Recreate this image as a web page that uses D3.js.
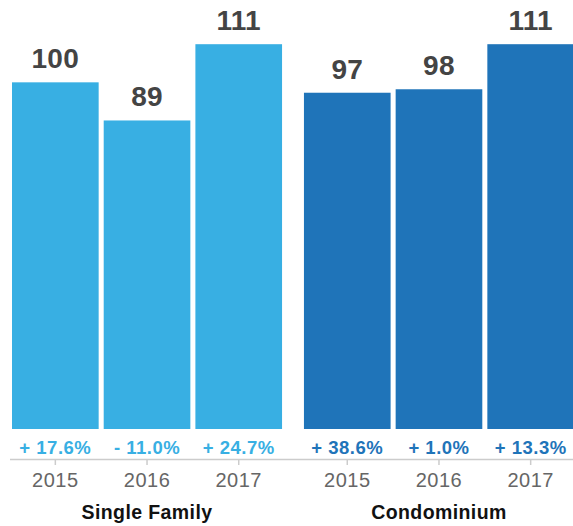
<!DOCTYPE html>
<html>
<head>
<meta charset="utf-8">
<script src="https://cdn.jsdelivr.net/npm/d3@7"></script>
<style>
  html, body { margin: 0; padding: 0; background: #fff; }
  svg { display: block; font-family: "Helvetica Neue", Helvetica, "Liberation Sans", Arial, sans-serif; }
</style>
</head>
<body>
<svg id="chart" width="573" height="526"></svg>
<script>
const groups = ["Single Family", "Condominium"];
const years = ["2015", "2016", "2017"];
const singleFamilyValues = [100, 89, 111];
const condominiumValues = [97, 98, 111];
const singleFamilyChange = [17.6, -11.0, 24.7];
const condominiumChange = [38.6, 1.0, 13.3];
const groupColors = ["#38afe3", "#1f74b9"];

const seriesValues = [singleFamilyValues, condominiumValues];
const seriesChange = [singleFamilyChange, condominiumChange];

const rows = [];
groups.forEach((g, gi) => {
  years.forEach((yr, yi) => {
    rows.push({ group: g, gi, year: yr, value: seriesValues[gi][yi], change: seriesChange[gi][yi] });
  });
});

const svg = d3.select("#chart");
const baseline = 429;

const x0 = d3.scaleBand().domain(groups).range([12, 574]).paddingInner(0.075).paddingOuter(0);
const x1 = d3.scaleBand().domain(years).range([0, x0.bandwidth()]).paddingInner(0.055).paddingOuter(0);
const y = d3.scaleLinear().domain([0, 120]).range([baseline, baseline - 416]);

const fmt = v => (v < 0 ? "- " : "+ ") + Math.abs(v).toFixed(1) + "%";

const g = svg.selectAll("g.group").data(groups).join("g")
  .attr("class", "group")
  .attr("transform", d => `translate(${x0(d)},0)`);

// bars
svg.selectAll("rect.bar").data(rows).join("rect")
  .attr("class", "bar")
  .attr("x", d => x0(d.group) + x1(d.year))
  .attr("width", x1.bandwidth())
  .attr("y", d => y(d.value))
  .attr("height", d => y(0) - y(d.value))
  .attr("fill", d => groupColors[d.gi]);

// value labels
svg.selectAll("text.val").data(rows).join("text")
  .attr("class", "val")
  .attr("x", d => x0(d.group) + x1(d.year) + x1.bandwidth() / 2)
  .attr("y", d => y(d.value) - 14)
  .attr("text-anchor", "middle")
  .attr("font-size", 28)
  .attr("font-weight", "bold")
  .attr("letter-spacing", 0.3)
  .attr("fill", "#444")
  .text(d => d.value);

// change labels
svg.selectAll("text.chg").data(rows).join("text")
  .attr("class", "chg")
  .attr("x", d => x0(d.group) + x1(d.year) + x1.bandwidth() / 2)
  .attr("y", 454)
  .attr("text-anchor", "middle")
  .attr("font-size", 18.5)
  .attr("font-weight", "bold")
  .attr("letter-spacing", 0.5)
  .attr("fill", d => groupColors[d.gi])
  .text(d => fmt(d.change));

// axis line
svg.append("line")
  .attr("x1", 10).attr("x2", 573)
  .attr("y1", 459.5).attr("y2", 459.5)
  .attr("stroke", "#cccccc").attr("stroke-width", 1.5);

// per-group axes for ticks and year labels
g.each(function (d) {
  const axis = d3.axisBottom(x1).tickSize(5).tickPadding(6);
  const ag = d3.select(this).append("g")
    .attr("transform", `translate(0,460)`)
    .call(axis);
  ag.select(".domain").remove();
  ag.selectAll(".tick line").attr("stroke", "#cccccc").attr("stroke-width", 1.5);
  ag.selectAll(".tick text")
    .attr("font-size", 20)
    .attr("letter-spacing", 0.5)
    .attr("font-family", "\"Helvetica Neue\", Helvetica, \"Liberation Sans\", Arial, sans-serif")
    .attr("fill", "#666")
    .attr("dy", null)
    .attr("y", 27);
});

// group labels
g.append("text")
  .attr("x", x0.bandwidth() / 2)
  .attr("y", 519)
  .attr("text-anchor", "middle")
  .attr("font-size", 19.5)
  .attr("font-weight", "bold")
  .attr("letter-spacing", 0.4)
  .attr("fill", "#111")
  .text(d => d);
</script>
</body>
</html>
